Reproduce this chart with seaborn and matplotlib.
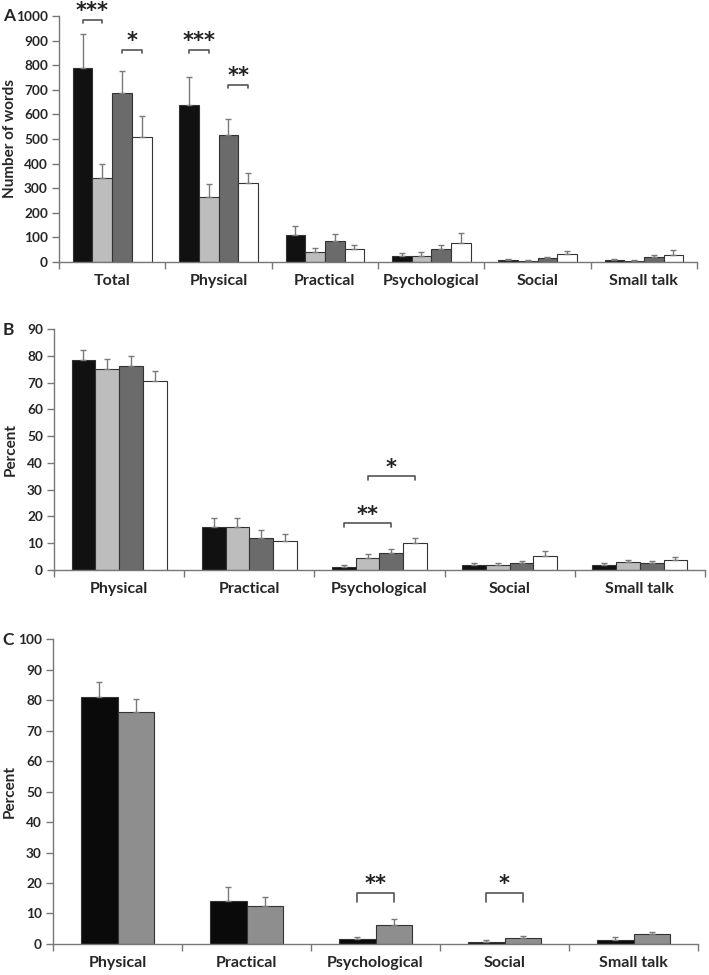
import numpy as np
import pandas as pd
import seaborn as sns
import matplotlib.pyplot as plt

# --- data ---
cats_a = ['Total', 'Physical', 'Practical', 'Psychological', 'Social', 'Small talk']
cats_bc = ['Physical', 'Practical', 'Psychological', 'Social', 'Small talk']
groups_ab = ['G1', 'G2', 'G3', 'G4']
groups_c = ['C1', 'C2']

# Panel A: number of words (mean, SE)
words_g1 = [790, 640, 108, 23, 8, 10]
words_g2 = [340, 265, 42, 26, 4, 4]
words_g3 = [688, 515, 87, 51, 15, 22]
words_g4 = [510, 320, 52, 79, 34, 30]
words_se_g1 = [135, 112, 37, 14, 4, 4]
words_se_g2 = [60, 50, 15, 14, 4, 6]
words_se_g3 = [87, 65, 28, 20, 4, 8]
words_se_g4 = [85, 42, 16, 37, 11, 17]

# Panel B: percent (mean, SE)
pct_g1 = [78.5, 16.2, 1.2, 1.7, 1.9]
pct_g2 = [75.0, 16.0, 4.4, 2.0, 3.0]
pct_g3 = [76.3, 12.1, 6.2, 2.5, 2.6]
pct_g4 = [70.7, 10.8, 10.0, 5.4, 3.7]
pct_se_g1 = [3.5, 3.3, 0.5, 0.9, 0.7]
pct_se_g2 = [3.7, 3.5, 1.7, 0.7, 0.9]
pct_se_g3 = [3.5, 2.9, 1.5, 0.9, 0.8]
pct_se_g4 = [3.6, 2.5, 2.1, 1.6, 1.0]

# Panel C: percent (mean, SE)
pct_c1 = [81.0, 14.2, 1.5, 0.7, 1.4]
pct_c2 = [76.0, 12.5, 6.3, 2.0, 3.2]
pct_se_c1 = [5.0, 4.5, 0.9, 0.5, 0.8]
pct_se_c2 = [4.3, 3.0, 1.9, 0.5, 0.7]

colors_ab = {'G1': '#111111', 'G2': '#bdbdbd', 'G3': '#6b6b6b', 'G4': '#ffffff'}
colors_c = {'C1': '#0a0a0a', 'C2': '#8e8e8e'}

# significance brackets: (category, bar i, bar j, y, label)
sig_a = [(0, 0, 1, 984, '***'), (0, 2, 3, 862, '*'),
         (1, 0, 1, 862, '***'), (1, 2, 3, 720, '**')]
sig_b = [(2, 0, 2, 17.5, '**'), (2, 1, 3, 35, '*')]
sig_c = [(2, 0, 1, 16.7, '**'), (3, 0, 1, 16.7, '*')]


def long_df(cats, groups, means, ses):
    rows = []
    for g, m, s in zip(groups, means, ses):
        for c, v, e in zip(cats, m, s):
            rows.append({'category': c, 'group': g, 'value': v, 'se': e})
    return pd.DataFrame(rows)


sns.set_theme(style='white')
plt.rcParams['font.family'] = ['Lato', 'DejaVu Sans']
plt.rcParams['font.weight'] = 'bold'
plt.rcParams['axes.labelweight'] = 'bold'

fig = plt.figure(figsize=(7.09, 9.75), dpi=100)
ax_a = fig.add_axes([0.0832, 0.7313, 0.900, 0.2523])
ax_b = fig.add_axes([0.0762, 0.4154, 0.9180, 0.2472])
ax_c = fig.add_axes([0.0748, 0.0318, 0.9097, 0.3128])


def draw_panel(ax, df, cats, groups, palette, width, ymax, ystep, ylabel, sigs,
               leg, lab_x):
    sns.barplot(data=df, x='category', y='value', hue='group', order=cats,
                hue_order=groups, palette=palette, width=width, errorbar=None,
                edgecolor='#333333', linewidth=0.8, legend=False, ax=ax)
    centers = []
    for g, cont in zip(groups, ax.containers):
        xs = [p.get_x() + p.get_width() / 2 for p in cont]
        hs = [p.get_height() for p in cont]
        se = df[df['group'] == g].set_index('category').loc[cats, 'se'].values
        ax.errorbar(xs, hs, yerr=[np.zeros(len(se)), se], fmt='none',
                    ecolor='#7a7a7a', elinewidth=1.0, capsize=2, capthick=1.0,
                    zorder=1)
        centers.append(xs)
    for cat, i, j, y, lab in sigs:
        x1, x2 = centers[i][cat], centers[j][cat]
        ax.plot([x1, x1, x2, x2], [y - leg, y, y, y - leg], color='#555555',
                lw=1.2, clip_on=False)
        ax.annotate(lab, xy=((x1 + x2) / 2, y), xytext=(0, -1),
                    textcoords='offset points', ha='center', va='bottom',
                    fontsize=15, fontweight='bold', color='#222222',
                    family='DejaVu Sans', annotation_clip=False)
    n = len(cats)
    ax.set_xlim(-0.5, n - 0.5)
    ax.set_ylim(0, ymax)
    ax.set_yticks(np.arange(0, ymax + ystep / 2, ystep))
    ax.set_xticks(range(n))
    ax.set_xticklabels(cats, fontsize=11.5, fontweight='bold')
    ax.set_xticks(np.arange(-0.5, n), minor=True)
    ax.tick_params(axis='x', which='major', length=0, pad=9)
    ax.tick_params(axis='x', which='minor', length=5, width=1,
                   color='#777777', direction='out', bottom=True)
    ax.tick_params(axis='y', length=5, width=1, color='#777777',
                   direction='out', left=True, labelsize=9.8, pad=3)
    for t in ax.get_yticklabels():
        t.set_fontweight('bold')
    ax.set_xlabel('')
    ax.set_ylabel(ylabel, fontsize=11, fontweight='bold')
    ax.yaxis.set_label_coords(lab_x, 0.5)
    sns.despine(ax=ax)
    for s in ['left', 'bottom']:
        ax.spines[s].set_color('#777777')
        ax.spines[s].set_linewidth(1.0)


df_a = long_df(cats_a, groups_ab,
               [words_g1, words_g2, words_g3, words_g4],
               [words_se_g1, words_se_g2, words_se_g3, words_se_g4])
df_b = long_df(cats_bc, groups_ab,
               [pct_g1, pct_g2, pct_g3, pct_g4],
               [pct_se_g1, pct_se_g2, pct_se_g3, pct_se_g4])
df_c = long_df(cats_bc, groups_c, [pct_c1, pct_c2], [pct_se_c1, pct_se_c2])

draw_panel(ax_a, df_a, cats_a, groups_ab, colors_ab, 0.74, 1000, 100,
           'Number of words', sig_a, 14, -0.066)
draw_panel(ax_b, df_b, cats_bc, groups_ab, colors_ab, 0.73, 90, 10,
           'Percent', sig_b, 1.5, -0.055)
draw_panel(ax_c, df_c, cats_bc, groups_c, colors_c, 0.57, 100, 10,
           'Percent', sig_c, 3.0, -0.056)

fig.text(0.004, 0.978, 'A', fontsize=12.5, fontweight='bold')
fig.text(0.004, 0.656, 'B', fontsize=12.5, fontweight='bold')
fig.text(0.004, 0.338, 'C', fontsize=12.5, fontweight='bold')

fig.savefig('out.png', dpi=100)
